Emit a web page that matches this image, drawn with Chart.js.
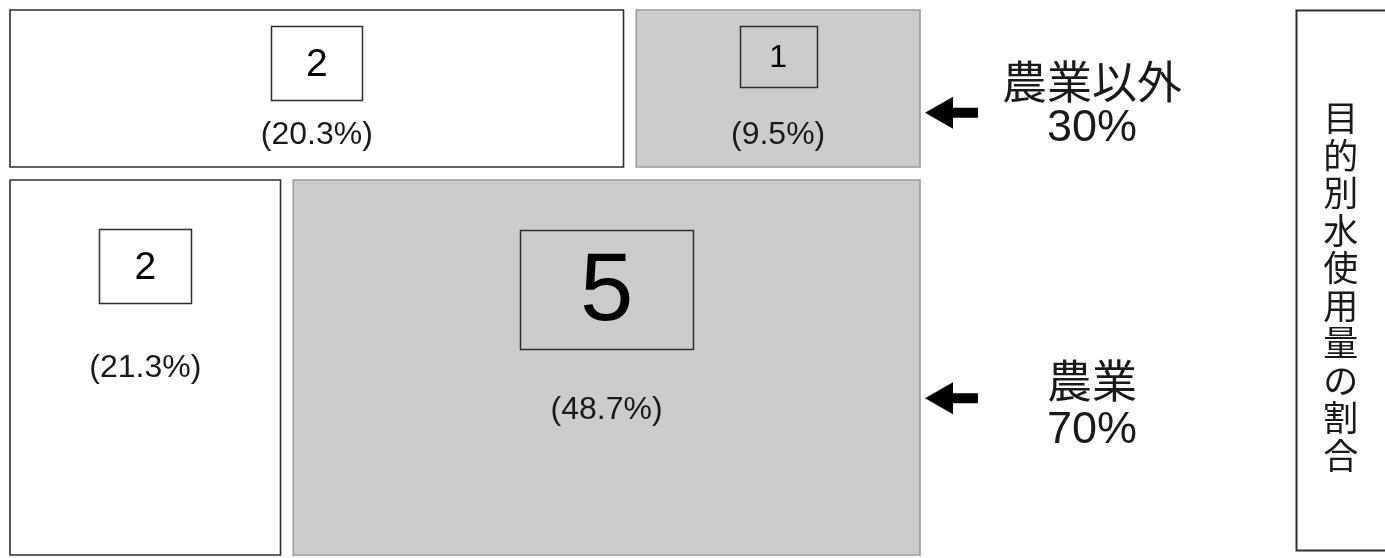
<!DOCTYPE html>
<html lang="ja">
<head>
<meta charset="utf-8">
<title>目的別水使用量の割合</title>
<script src="https://cdn.jsdelivr.net/npm/chart.js@4.4.1/dist/chart.umd.min.js"></script>
<style>
  html, body { margin: 0; padding: 0; background: #ffffff; }
  #wrap { position: relative; width: 1385px; height: 558px; }
  canvas { display: block; }
</style>
</head>
<body>
<div id="wrap"><canvas id="c" width="1385" height="558"></canvas></div>
<script>
// ---- data ----------------------------------------------------------------
const title = '目的別水使用量の割合';
const rowLabels = ['農業以外', '農業'];      // rows, top to bottom
const rowShares = [30, 70];                  // % of total water use per row
const cellRow = [0, 0, 1, 1];                // which row each cell belongs to
const cellBadges = ['2', '1', '2', '5'];     // number shown in each cell's box
const cellShares = [20.3, 9.5, 21.3, 48.7];  // % of total water use per cell

// ---- styles / layout -----------------------------------------------------
const FONT_LATIN = "'Liberation Sans', Arial, 'Noto Sans CJK JP', sans-serif";
const FONT_CJK = "'Noto Sans CJK JP', 'Liberation Sans', sans-serif";
const TEXT = '#1a1a1a';
const cellFill = ['#ffffff', '#cccccc', '#ffffff', '#cccccc'];
const cellBorder = ['#2e2e2e', '#9a9a9a', '#2e2e2e', '#9a9a9a'];
const badgeW = [91, 77, 92, 173];
const badgeH = [74, 61, 74, 119];
const badgeTop = [16, 16, 49, 50];
const badgeFont = [39, 32, 39, 96];
const pctOffset = [125, 125, 188, 230];
const arrowDy = [21, 34];
const textDy = [-10, 17];
const lineGap = [47, 49];
const GAP_X = 1.4;   // gap between neighbouring cells, in axis units
const GAP_Y = 2.4;

// ---- build one closed rectangle (polygon) per cell from the shares -------
function rowExtent(r) {
  let top = 100;
  for (let i = 0; i < r; i++) top -= rowShares[i];
  const lo = top - rowShares[r], hi = top;
  return [lo + (lo > 0 ? GAP_Y / 2 : 0), hi - (hi < 100 ? GAP_Y / 2 : 0)];
}

const cellBox = cellShares.map((share, i) => {
  const r = cellRow[i];
  const members = cellShares.map((s, j) => j).filter(j => cellRow[j] === r);
  const rowSum = members.reduce((a, j) => a + cellShares[j], 0);
  let start = 0;
  for (const j of members) { if (j === i) break; start += cellShares[j] / rowSum * 100; }
  const end = start + share / rowSum * 100;
  const x0 = start + (start > 0 ? GAP_X / 2 : 0);
  const x1 = end - (end < 99.999 ? GAP_X / 2 : 0);
  const [y0, y1] = rowExtent(r);
  return { x0, x1, y0, y1 };
});

const datasets = cellBox.map((b, i) => ({
  label: `${rowLabels[cellRow[i]]} ${cellShares[i]}%`,
  data: [
    { x: b.x0, y: b.y1 }, { x: b.x1, y: b.y1 }, { x: b.x1, y: b.y0 },
    { x: b.x0, y: b.y0 }, { x: b.x0, y: b.y1 }, { x: b.x1, y: b.y1 }
  ],
  fill: 'shape',
  backgroundColor: cellFill[i],
  borderColor: cellBorder[i],
  borderWidth: 1.6,
  borderJoinStyle: 'miter',
  pointRadius: 0,
  pointHoverRadius: 0,
  tension: 0,
  clip: false
}));

// ---- labels, badges, side notes and the vertical title --------------------
const mosaicLabels = {
  id: 'mosaicLabels',
  afterDatasetsDraw(chart) {
    const { ctx, chartArea, scales: { x, y } } = chart;
    ctx.save();
    ctx.textAlign = 'center';
    ctx.textBaseline = 'middle';
    ctx.fillStyle = TEXT;

    cellBox.forEach((b, i) => {
      const left = x.getPixelForValue(b.x0);
      const right = x.getPixelForValue(b.x1);
      const top = y.getPixelForValue(b.y1);
      const cx = (left + right) / 2;
      // numbered box
      ctx.lineWidth = 1.5;
      ctx.strokeStyle = '#2e2e2e';
      const bx = Math.round(cx - badgeW[i] / 2) + 0.5;
      const by = Math.round(top + badgeTop[i]) + 0.5;
      ctx.strokeRect(bx, by, badgeW[i], badgeH[i]);
      ctx.fillStyle = '#000000';
      ctx.font = `${badgeFont[i]}px ${FONT_LATIN}`;
      ctx.fillText(cellBadges[i], cx, by + badgeH[i] / 2 + badgeFont[i] * 0.04);
      // share in brackets
      ctx.fillStyle = TEXT;
      ctx.font = `32px ${FONT_LATIN}`;
      ctx.fillText(`(${cellShares[i].toFixed(1)}%)`, cx, top + pctOffset[i]);
    });

    // arrows and row captions
    rowLabels.forEach((label, r) => {
      let topV = 100;
      for (let k = 0; k < r; k++) topV -= rowShares[k];
      const mid = y.getPixelForValue(topV - rowShares[r] / 2);
      const ay = mid + arrowDy[r];
      const tip = chartArea.right + 5;
      ctx.fillStyle = '#000000';
      ctx.beginPath();
      ctx.moveTo(tip, ay);
      ctx.lineTo(tip + 28, ay - 16);
      ctx.lineTo(tip + 28, ay - 5);
      ctx.lineTo(tip + 53, ay - 5);
      ctx.lineTo(tip + 53, ay + 5);
      ctx.lineTo(tip + 28, ay + 5);
      ctx.lineTo(tip + 28, ay + 16);
      ctx.closePath();
      ctx.fill();

      const tx = chartArea.right + 172;
      const ty = mid + textDy[r];
      ctx.fillStyle = TEXT;
      ctx.font = `45px ${FONT_CJK}`;
      ctx.fillText(label, tx, ty);
      ctx.font = `45px ${FONT_LATIN}`;
      ctx.fillText(`${rowShares[r]}%`, tx, ty + lineGap[r]);
    });

    // vertical title in its frame
    const boxL = chartArea.right + 376.5;
    const boxT = 10.5, boxB = 550.5;
    ctx.strokeStyle = '#2e2e2e';
    ctx.lineWidth = 2;
    ctx.strokeRect(boxL, boxT, chart.width - boxL + 5, boxB - boxT);
    const chars = Array.from(title);
    const pitch = 37.5;
    const cxT = (boxL + chart.width) / 2;
    const startY = (boxT + boxB) / 2 + 6 - pitch * (chars.length - 1) / 2;
    ctx.font = `35px ${FONT_CJK}`;
    ctx.fillStyle = TEXT;
    chars.forEach((ch, k) => ctx.fillText(ch, cxT, startY + k * pitch));
    ctx.restore();
  }
};

new Chart(document.getElementById('c'), {
  type: 'line',
  data: { datasets },
  options: {
    responsive: false,
    animation: false,
    events: [],
    layout: { padding: { left: 10, top: 10, right: 465, bottom: 3 } },
    scales: {
      x: { type: 'linear', min: 0, max: 100, display: false },
      y: { type: 'linear', min: 0, max: 100, display: false }
    },
    plugins: {
      legend: { display: false },
      tooltip: { enabled: false },
      title: { display: false }
    }
  },
  plugins: [mosaicLabels]
});
</script>
</body>
</html>
